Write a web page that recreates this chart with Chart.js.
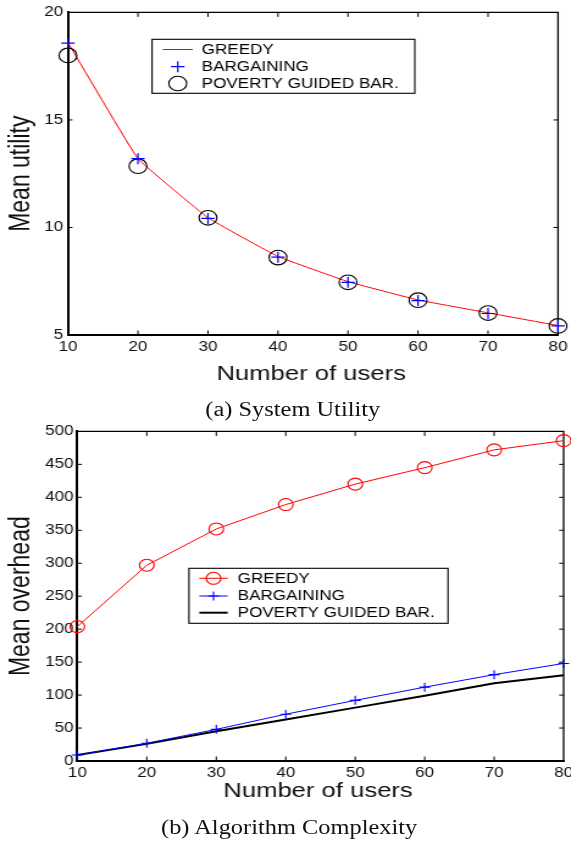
<!DOCTYPE html>
<html>
<head>
<meta charset="utf-8">
<script src="https://cdn.jsdelivr.net/npm/chart.js@4.4.1/dist/chart.umd.min.js"></script>
<style>
  html, body { margin: 0; padding: 0; background: #fff; overflow: hidden; width: 571px; height: 846px; }
  /* the figure is drawn at a narrower logical width and widened horizontally */
  #fig { position: absolute; left: 0; top: 0; width: 480px; height: 846px; transform: scaleX(1.22); transform-origin: 0 0; }
  #fig canvas { position: absolute; left: 0; }
  .cap { position: absolute; width: 300px; text-align: center; font-family: "Liberation Serif", "Times New Roman", serif; font-size: 20px; line-height: 24px; color: #111; white-space: nowrap; }
</style>
</head>
<body>
<div id="fig">
  <canvas id="utility" width="480" height="420" style="top:0"></canvas>
  <canvas id="overhead" width="480" height="426" style="top:420px"></canvas>
  <div class="cap" style="left:90px; top:397px;">(a) System Utility</div>
  <div class="cap" style="left:87px; top:815px;">(b) Algorithm Complexity</div>
</div>
<script>
// Number of users on the x axis
const users = [10, 20, 30, 40, 50, 60, 70, 80];
const userTicks = [10, 20, 30, 40, 50, 60, 70, 80];

// (a) mean utility per scheme
const utilityGreedy = [18.6, 13.2, 10.45, 8.65, 7.48, 6.63, 6.03, 5.44];
const utilityBargaining = [18.57, 13.2, 10.42, 8.62, 7.45, 6.6, 6.0, 5.42];
const utilityPoverty = [18.0, 12.85, 10.45, 8.6, 7.45, 6.62, 6.02, 5.42];
const utilityTicks = [5, 10, 15, 20];

// (b) mean overhead per scheme
const overheadGreedy = [204, 297, 352, 389, 420, 445, 472, 486];
const overheadBargaining = [9, 27, 48, 71, 92, 112, 131, 148];
const overheadPoverty = [9, 26, 45, 63, 81, 99, 118, 130];
const overheadTicks = [0, 50, 100, 150, 200, 250, 300, 350, 400, 450, 500];

const SANS = '"Liberation Sans", Arial, sans-serif';
const XSTRETCH = 1.22;

function pts(xs, ys) { return xs.map((x, i) => ({ x: x, y: ys[i] })); }

function drawMarker(ctx, style, x, y, r, color, width) {
  ctx.save();
  ctx.strokeStyle = color;
  ctx.lineWidth = width;
  ctx.beginPath();
  if (style === 'cross') {
    ctx.moveTo(x - r, y); ctx.lineTo(x + r, y);
    ctx.moveTo(x, y - r); ctx.lineTo(x, y + r);
  } else {
    ctx.arc(x, y, r, 0, Math.PI * 2);
  }
  ctx.stroke();
  ctx.restore();
}

// box around the plot with short inward ticks on every side
const framePlugin = {
  id: 'frame',
  beforeDatasetsDraw(chart, args, o) {
    const { ctx, chartArea: a, scales: { x, y } } = chart;
    ctx.save();
    ctx.strokeStyle = '#000';
    ctx.lineWidth = o.edgeWidth;
    ctx.beginPath();
    ctx.moveTo(a.left, a.top); ctx.lineTo(a.right, a.top); ctx.lineTo(a.right, a.bottom);
    ctx.stroke();
    ctx.lineWidth = 1;
    ctx.beginPath();
    const tl = o.tickLen;
    x.ticks.forEach(t => {
      const px = x.getPixelForValue(t.value);
      if (px <= a.left + 1 || px >= a.right - 1) return;
      ctx.moveTo(px, a.top); ctx.lineTo(px, a.top + tl);
      ctx.moveTo(px, a.bottom); ctx.lineTo(px, a.bottom - tl);
    });
    y.ticks.forEach(t => {
      const py = y.getPixelForValue(t.value);
      if (py <= a.top + 1 || py >= a.bottom - 1) return;
      ctx.moveTo(a.left, py); ctx.lineTo(a.left + tl / XSTRETCH, py);
      ctx.moveTo(a.right, py); ctx.lineTo(a.right - tl / XSTRETCH, py);
    });
    ctx.stroke();
    ctx.restore();
  }
};

// axis titles
const axisTitles = {
  id: 'axisTitles',
  afterDraw(chart, args, o) {
    const { ctx, chartArea: a } = chart;
    ctx.save();
    ctx.fillStyle = '#111';
    ctx.font = o.xSize + 'px ' + SANS;
    ctx.textAlign = 'center';
    ctx.textBaseline = 'alphabetic';
    ctx.fillText(o.xText, (a.left + a.right) / 2 + o.xShift, o.xBaseline);
    ctx.translate(o.yCenterX, (a.top + a.bottom) / 2);
    ctx.rotate(-Math.PI / 2);
    ctx.font = o.ySize + 'px ' + SANS;
    ctx.textBaseline = 'middle';
    ctx.fillText(o.yText, 0, 0);
    ctx.restore();
  }
};

// boxed legend inside the plot area
const boxLegend = {
  id: 'boxLegend',
  afterDraw(chart, args, o) {
    const ctx = chart.ctx;
    ctx.save();
    ctx.fillStyle = '#fff';
    ctx.fillRect(o.left, o.top, o.width, o.height);
    ctx.strokeStyle = '#000';
    ctx.lineWidth = 1.1;
    ctx.strokeRect(o.left, o.top, o.width, o.height);
    chart.data.datasets.forEach((ds, i) => {
      const yy = o.rows[i];
      if (ds.showLine !== false) {
        ctx.strokeStyle = ds.borderColor;
        ctx.lineWidth = ds.borderWidth;
        ctx.beginPath();
        ctx.moveTo(o.lineX0, yy); ctx.lineTo(o.lineX1, yy);
        ctx.stroke();
      }
      if (ds.pointRadius > 0) {
        drawMarker(ctx, ds.pointStyle, o.markerX, yy, ds.pointRadius, ds.pointBorderColor, ds.pointBorderWidth);
      }
      ctx.fillStyle = '#000';
      ctx.font = o.fontSize + 'px ' + SANS;
      ctx.textAlign = 'left';
      ctx.textBaseline = 'middle';
      ctx.fillText(ds.label, o.textX, yy + 0.5);
    });
    ctx.restore();
  }
};

function linearX(tickFont) {
  return {
    type: 'linear', min: 10, max: 80,
    afterBuildTicks: s => { s.ticks = userTicks.map(v => ({ value: v })); },
    afterFit: s => { s.height = 85; },
    grid: { display: false, drawTicks: false },
    border: { display: true, color: '#000', width: 2 },
    ticks: { color: '#111', font: { family: SANS, size: tickFont }, padding: 4, maxRotation: 0, autoSkip: false }
  };
}

function linearY(min, max, tickList, width, tickFont, pad) {
  return {
    type: 'linear', min: min, max: max,
    afterBuildTicks: s => { s.ticks = tickList.map(v => ({ value: v })); },
    afterFit: s => { s.width = width; },
    grid: { display: false, drawTicks: false },
    border: { display: true, color: '#000', width: 2 },
    ticks: { color: '#111', font: { family: SANS, size: tickFont }, padding: pad, autoSkip: false }
  };
}

const common = {
  responsive: false,
  animation: false,
  events: [],
  plugins: { legend: { display: false }, tooltip: { enabled: false } }
};

// (a) System Utility
new Chart(document.getElementById('utility'), {
  type: 'scatter',
  data: {
    datasets: [
      { label: 'GREEDY', data: pts(users, utilityGreedy), showLine: true,
        borderColor: '#ff0000', borderWidth: 1, tension: 0.08,
        pointRadius: 0, clip: false, order: 3 },
      { label: 'BARGAINING', data: pts(users, utilityBargaining), showLine: false,
        pointStyle: 'cross', pointRadius: 5.5, pointBorderColor: '#0000ff', pointBorderWidth: 1.2,
        borderColor: '#0000ff', borderWidth: 1, clip: false, order: 1 },
      { label: 'POVERTY GUIDED BAR.', data: pts(users, utilityPoverty), showLine: false,
        pointStyle: 'circle', pointRadius: 7.3, pointBorderColor: '#000', pointBorderWidth: 1.1,
        pointBackgroundColor: 'rgba(0,0,0,0)', borderColor: '#000', borderWidth: 1, clip: false, order: 2 }
    ]
  },
  options: Object.assign({}, common, {
    layout: { padding: { top: 8, right: 480 - 457.4, bottom: 0, left: 0 } },
    scales: { x: linearX(14), y: linearY(5, 20, utilityTicks, 55.7, 14, 4) },
    plugins: Object.assign({}, common.plugins, {
      frame: { edgeWidth: 1.3, tickLen: 4.5 },
      axisTitles: { xText: 'Number of users', xSize: 21, xBaseline: 380, xShift: -1.5,
                    yText: 'Mean utility', ySize: 23, yCenterX: 17.2 },
      boxLegend: { left: 124.6, top: 39.3, width: 215.4, height: 54, rows: [49.5, 66.7, 83.5],
                   lineX0: 133.4, lineX1: 158, markerX: 145.7, textX: 165.3, fontSize: 14 }
    })
  }),
  plugins: [framePlugin, axisTitles, boxLegend]
});

// (b) Algorithm Complexity
new Chart(document.getElementById('overhead'), {
  type: 'scatter',
  data: {
    datasets: [
      { label: 'GREEDY', data: pts(users, overheadGreedy), showLine: true,
        borderColor: '#ff0000', borderWidth: 1, pointStyle: 'circle', pointRadius: 6,
        pointBorderColor: '#ff0000', pointBorderWidth: 1.1, pointBackgroundColor: 'rgba(0,0,0,0)',
        clip: false, order: 1 },
      { label: 'BARGAINING', data: pts(users, overheadBargaining), showLine: true,
        borderColor: '#0000ff', borderWidth: 1, pointStyle: 'cross', pointRadius: 4.5,
        pointBorderColor: '#0000ff', pointBorderWidth: 1.1, clip: false, order: 2 },
      { label: 'POVERTY GUIDED BAR.', data: pts(users, overheadPoverty), showLine: true,
        borderColor: '#000000', borderWidth: 2, pointRadius: 0, clip: false, order: 3 }
    ]
  },
  options: Object.assign({}, common, {
    layout: { padding: { top: 10.7, right: 480 - 462.0, bottom: 0, left: 0 } },
    scales: { x: linearX(14), y: linearY(0, 500, overheadTicks, 63.4, 14, 3) },
    plugins: Object.assign({}, common.plugins, {
      frame: { edgeWidth: 1.3, tickLen: 4.5 },
      axisTitles: { xText: 'Number of users', xSize: 21, xBaseline: 376.7, xShift: -2,
                    yText: 'Mean overhead', ySize: 23, yCenterX: 17.5 },
      boxLegend: { left: 154.9, top: 148.3, width: 212.3, height: 55, rows: [158.3, 176, 192.7],
                   lineX0: 163.4, lineX1: 186.6, markerX: 175, textX: 194.8, fontSize: 14 }
    })
  }),
  plugins: [framePlugin, axisTitles, boxLegend]
});
</script>
</body>
</html>
